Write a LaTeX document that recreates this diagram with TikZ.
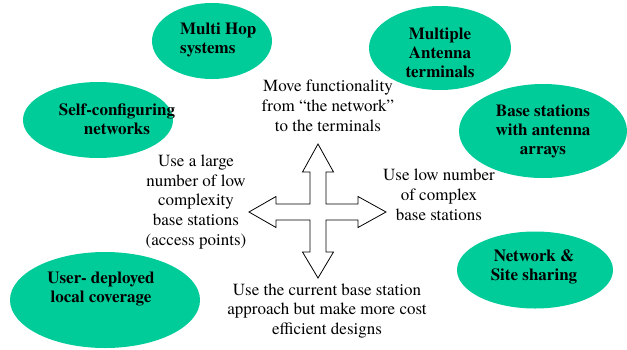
\documentclass[tikz,border=0pt]{standalone}
\usepackage{fontspec}
\setmainfont{texgyretermes}[Extension=.otf,UprightFont=*-regular,BoldFont=*-bold,ItalicFont=*-italic,BoldItalicFont=*-bolditalic]
\usetikzlibrary{shapes.geometric}
\definecolor{blobgreen}{HTML}{00CC99}
\begin{document}
\begin{tikzpicture}[x=1pt,y=-1pt,
  blob/.style={ellipse,fill=blobgreen,draw=none,inner sep=0pt},
  btxt/.style={inner sep=0pt,font=\rmfamily\fontsize{17}{19}\selectfont\bfseries,align=center},
  ntxt/.style={inner sep=0pt,font=\rmfamily\fontsize{17}{19.8}\selectfont,align=center}]
\useasboundingbox (0,0) rectangle (627,349);
% ellipses
\node[blob,minimum width=120pt,minimum height=76pt] (e1) at (212,41) {};
\node[blob,minimum width=142pt,minimum height=84pt] (e2) at (440,48) {};
\node[blob,minimum width=150pt,minimum height=76pt] (e3) at (98,120) {};
\node[blob,minimum width=168pt,minimum height=94pt] (e4) at (543,131) {};
\node[blob,minimum width=190pt,minimum height=96pt] (e5) at (105,300) {};
\node[blob,minimum width=156pt,minimum height=77pt] (e6) at (535,270) {};
% ellipse texts
\node[btxt,align=left,anchor=west] (t1) at (180,40) {Multi Hop\\systems};
\node[btxt] (t2) at (440,53) {Multiple\\Antenna\\terminals};
\node[btxt] (t3) at (117,119) {Self-configuring\\networks};
\node[btxt] (t4) at (543,131) {Base stations\\with antenna\\arrays};
\node[btxt] (t5) at (101,289) {User- deployed\\local coverage};
\node[btxt] (t6) at (534,267) {Network \&\\Site sharing};
% plain texts
\node[ntxt] (m1) at (328,106) {Move functionality\\from “the network”\\to the terminals};
\node[ntxt] (m2) at (196,202) {Use a large\\number of low\\complexity\\base stations\\(access points)};
\node[ntxt] (m3) at (439,195) {Use low number\\of complex\\base stations};
\node[ntxt] (m4) at (327,311) {Use the current base station\\approach but make more cost\\efficient designs};
% cross arrow
\draw[black,line width=0.8pt,fill=white,line join=miter]
  (310,172) -- (302.5,172) -- (318,144) -- (333.5,172) -- (326,172)
  -- (326,204) -- (358,204) -- (358,196.5) -- (386,212) -- (358,227.5) -- (358,220)
  -- (326,220) -- (326,252) -- (333.5,252) -- (318,278) -- (302.5,252) -- (310,252)
  -- (310,220) -- (276,220) -- (276,227.5) -- (249,212) -- (276,196.5) -- (276,204)
  -- (310,204) -- cycle;
\end{tikzpicture}
\end{document}
